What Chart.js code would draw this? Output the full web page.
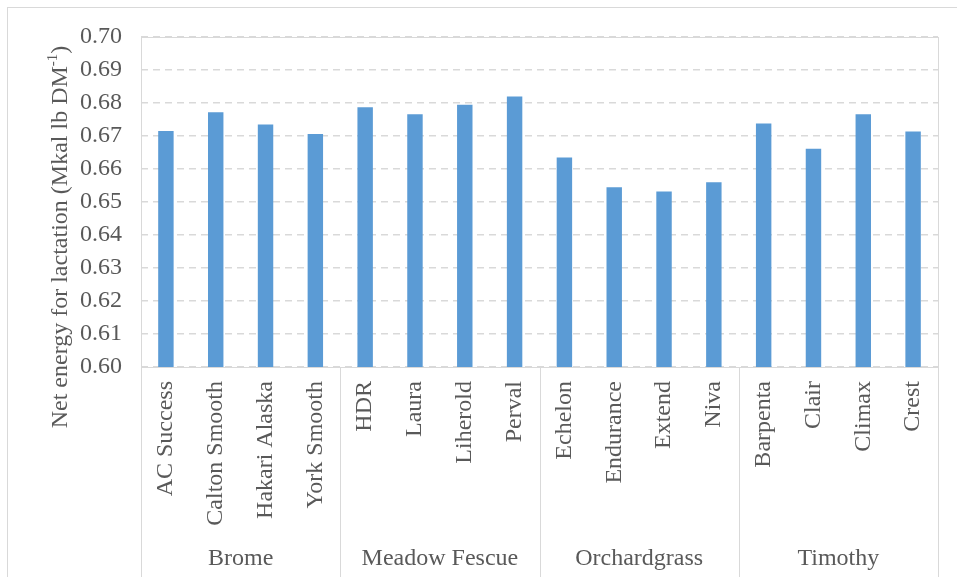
<!DOCTYPE html>
<html>
<head>
<meta charset="utf-8">
<script src="https://cdn.jsdelivr.net/npm/chart.js@4.4.1/dist/chart.umd.min.js"></script>
<style>
  html, body { margin: 0; padding: 0; background: #fff; }
  #wrap { width: 957px; height: 577px; }
</style>
</head>
<body>
<div id="wrap"><canvas id="myChart" width="957" height="577"></canvas></div>
<script>
const varieties = ['AC Success', 'Calton Smooth', 'Hakari Alaska', 'York Smooth',
    'HDR', 'Laura', 'Liherold', 'Perval',
    'Echelon', 'Endurance', 'Extend', 'Niva',
    'Barpenta', 'Clair', 'Climax', 'Crest']
const groups = ['Brome', 'Meadow Fescue', 'Orchardgrass', 'Timothy']
const nel = [0.6715, 0.6772, 0.6735, 0.6706,
    0.6787, 0.6766, 0.6795, 0.6820,
    0.6635, 0.6545, 0.6532, 0.6560,
    0.6738, 0.6661, 0.6766, 0.6714]
const yTicks = [0.60, 0.61, 0.62, 0.63, 0.64, 0.65, 0.66, 0.67, 0.68, 0.69, 0.70]

const serif = 'Liberation Serif, Times New Roman, serif'
const textColor = '#595959'
const gridColor = '#d9d9d9'

// plot frame, group labels and separators, y title with superscript
const groupAxis = {
    id: 'groupAxis',
    afterDraw(chart) {
        const c = chart.ctx
        const a = chart.chartArea
        const x = chart.scales.x
        const step = (x.right - x.left) / varieties.length
        const per = varieties.length / groups.length
        c.save()
        c.strokeStyle = gridColor
        c.lineWidth = 1
        c.strokeRect(7.5, 7.5, 1000, 1000)
        c.strokeRect(Math.round(a.left) + 0.5, Math.round(a.top) + 0.5,
            Math.round(a.right - a.left), Math.round(a.bottom - a.top))
        for (let i = 0; i <= groups.length; i++) {
            const px = Math.round(x.left + i * per * step) + 0.5
            c.beginPath()
            c.moveTo(px, x.top)
            c.lineTo(px, 577)
            c.stroke()
        }
        c.fillStyle = textColor
        c.font = '24px ' + serif
        c.textAlign = 'center'
        c.textBaseline = 'alphabetic'
        groups.forEach((g, i) => {
            const mid = x.left + (i + 0.5) * per * step
            c.fillText(g, mid, 565)
        })

        // y axis title
        const main = 'Net energy for lactation (Mkal lb DM'
        const sup = '-1'
        const tail = ')'
        c.font = '24px ' + serif
        const w1 = c.measureText(main).width
        const w3 = c.measureText(tail).width
        c.font = '15px ' + serif
        const w2 = c.measureText(sup).width
        const total = w1 + w2 + w3
        c.translate(67, 237)
        c.rotate(-Math.PI / 2)
        c.textAlign = 'left'
        let p = -total / 2
        c.font = '24px ' + serif
        c.fillText(main, p, 0)
        p += w1
        c.font = '15px ' + serif
        c.fillText(sup, p, -10)
        p += w2
        c.font = '24px ' + serif
        c.fillText(tail, p, 0)
        c.restore()
    }
}

const ctx = document.getElementById('myChart').getContext('2d')
const myChart = new Chart(ctx, {
    type: 'bar',
    data: {
        labels: varieties,
        datasets: [{
            data: nel,
            backgroundColor: '#5b9bd5',
            borderWidth: 0,
            barPercentage: 0.62,
            categoryPercentage: 0.5
        }]
    },
    options: {
        responsive: false,
        animation: false,
        layout: { padding: { left: 20, right: 19, top: 37, bottom: 0 } },
        plugins: {
            legend: { display: false },
            tooltip: { enabled: false }
        },
        scales: {
            x: {
                grid: { display: false, drawTicks: false },
                border: { display: false },
                ticks: {
                    color: textColor,
                    font: { family: serif, size: 24 },
                    maxRotation: 90,
                    minRotation: 90,
                    autoSkip: false,
                    padding: 14
                },
                afterFit: s => { s.height = 210 }
            },
            y: {
                min: 0.6,
                max: 0.7,
                afterBuildTicks: s => { s.ticks = yTicks.map(v => ({ value: v })) },
                grid: {
                    color: gridColor,
                    lineWidth: 1.5,
                    drawTicks: false
                },
                border: { display: false, dash: [7, 5] },
                ticks: {
                    color: textColor,
                    font: { family: serif, size: 24 },
                    padding: 19,
                    callback: v => v.toFixed(2)
                },
                afterFit: s => { s.width = 121 }
            }
        }
    },
    plugins: [groupAxis]
})
</script>
</body>
</html>
